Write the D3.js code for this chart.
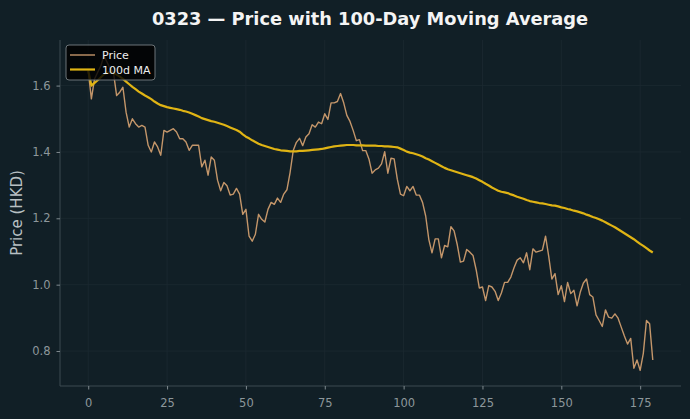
<!DOCTYPE html>
<html>
<head>
<meta charset="utf-8">
<script src="https://cdn.jsdelivr.net/npm/d3@7"></script>
<style>
  html, body { margin: 0; padding: 0; background: #111f26; }
  svg { display: block; font-family: "DejaVu Sans", sans-serif; }
</style>
</head>
<body>
<svg width="690" height="419"></svg>
<script>
// closing price, one value per trading day (index 0..179)
var price = [
  1.645, 1.560, 1.620, 1.640, 1.660, 1.690, 1.670, 1.650, 1.640, 1.570,
  1.580, 1.595, 1.520, 1.475, 1.500, 1.485, 1.475, 1.480, 1.475, 1.420,
  1.400, 1.430, 1.415, 1.390, 1.465, 1.460, 1.465, 1.470, 1.460, 1.440,
  1.440, 1.430, 1.405, 1.420, 1.420, 1.420, 1.355, 1.375, 1.330, 1.385,
  1.375, 1.315, 1.283, 1.308, 1.298, 1.270, 1.273, 1.290, 1.273, 1.212,
  1.227, 1.146, 1.131, 1.152, 1.212, 1.197, 1.189, 1.227, 1.248, 1.242,
  1.261, 1.248, 1.273, 1.286, 1.338, 1.404, 1.429, 1.441, 1.419, 1.445,
  1.455, 1.482, 1.475, 1.490, 1.485, 1.515, 1.498, 1.548, 1.548, 1.552,
  1.576, 1.548, 1.510, 1.492, 1.465, 1.434, 1.437, 1.404, 1.404, 1.379,
  1.336, 1.346, 1.351, 1.364, 1.401, 1.336, 1.381, 1.379, 1.318, 1.273,
  1.268, 1.296, 1.283, 1.296, 1.270, 1.270, 1.248, 1.207, 1.136, 1.096,
  1.138, 1.138, 1.081, 1.118, 1.114, 1.175, 1.162, 1.121, 1.068, 1.071,
  1.106, 1.098, 1.088, 1.045, 0.990, 0.993, 0.952, 0.997, 0.993, 0.980,
  0.952, 0.975, 1.007, 1.007, 1.023, 1.051, 1.074, 1.081, 1.066, 1.096,
  1.045, 1.108, 1.098, 1.101, 1.104, 1.146, 1.086, 1.017, 1.033, 0.970,
  0.997, 0.949, 1.007, 0.973, 0.983, 0.936, 0.977, 1.005, 1.017, 0.970,
  0.963, 0.909, 0.892, 0.874, 0.924, 0.902, 0.899, 0.912, 0.899, 0.872,
  0.845, 0.821, 0.838, 0.748, 0.773, 0.742, 0.793, 0.892, 0.882, 0.773
];

// 100-day moving average
var ma100 = [
  1.645, 1.600, 1.608, 1.616, 1.625, 1.634, 1.639, 1.640, 1.638, 1.633,
  1.627, 1.620, 1.612, 1.604, 1.596, 1.589, 1.582, 1.576, 1.570, 1.565,
  1.559, 1.552, 1.546, 1.541, 1.538, 1.535, 1.533, 1.531, 1.529, 1.527,
  1.524, 1.522, 1.519, 1.515, 1.511, 1.507, 1.502, 1.499, 1.496, 1.493,
  1.491, 1.488, 1.485, 1.482, 1.478, 1.474, 1.470, 1.466, 1.461, 1.453,
  1.446, 1.441, 1.435, 1.430, 1.425, 1.421, 1.418, 1.415, 1.412, 1.409,
  1.407, 1.405, 1.404, 1.403, 1.402, 1.402, 1.402, 1.403, 1.403, 1.404,
  1.405, 1.406, 1.407, 1.408, 1.409, 1.411, 1.413, 1.415, 1.417, 1.418,
  1.419, 1.420, 1.421, 1.421, 1.421, 1.420, 1.420, 1.420, 1.419, 1.419,
  1.419, 1.419, 1.418, 1.418, 1.417, 1.417, 1.416, 1.415, 1.414, 1.410,
  1.406, 1.401, 1.398, 1.396, 1.393, 1.390, 1.386, 1.381, 1.377, 1.372,
  1.367, 1.362, 1.357, 1.352, 1.348, 1.345, 1.342, 1.339, 1.336, 1.333,
  1.330, 1.327, 1.324, 1.320, 1.315, 1.310, 1.304, 1.299, 1.293, 1.288,
  1.283, 1.280, 1.278, 1.276, 1.272, 1.269, 1.265, 1.262, 1.259, 1.255,
  1.252, 1.250, 1.248, 1.246, 1.245, 1.243, 1.241, 1.239, 1.238, 1.236,
  1.233, 1.231, 1.228, 1.226, 1.223, 1.221, 1.218, 1.215, 1.211, 1.208,
  1.204, 1.201, 1.197, 1.193, 1.188, 1.183, 1.178, 1.173, 1.167, 1.161,
  1.155, 1.149, 1.143, 1.137, 1.130, 1.123, 1.117, 1.110, 1.103, 1.097
];

var xTicks = [0, 25, 50, 75, 100, 125, 150, 175];
var yTicks = [0.8, 1.0, 1.2, 1.4, 1.6];
var seriesNames = ["Price", "100d MA"];

var svg = d3.select("svg");
var plotL = 60, plotR = 681, plotT = 40, plotB = 386;

var n = price.length;
var pad = (n - 1) * 0.05;
var x = d3.scaleLinear().domain([-pad, n - 1 + pad]).range([plotL, plotR]);
var lo = d3.min(price), hi = d3.max(price);
var yPad = (hi - lo) * 0.05;
var y = d3.scaleLinear().domain([lo - yPad, hi + yPad]).range([plotB, plotT]);

// faint grid
svg.append("g").selectAll("line").data(xTicks).enter().append("line")
  .attr("x1", function(d) { return x(d); }).attr("x2", function(d) { return x(d); })
  .attr("y1", plotT).attr("y2", plotB)
  .style("stroke", "#1c2a31").style("stroke-width", 0.8);
svg.append("g").selectAll("line").data(yTicks).enter().append("line")
  .attr("y1", function(d) { return y(d); }).attr("y2", function(d) { return y(d); })
  .attr("x1", plotL).attr("x2", plotR)
  .style("stroke", "#1c2a31").style("stroke-width", 0.8);

// axes
var xAxis = svg.append("g").attr("transform", "translate(0," + plotB + ")")
  .call(d3.axisBottom(x).tickValues(xTicks).tickSize(3.5).tickPadding(9.5).tickFormat(d3.format("d")));
var yAxis = svg.append("g").attr("transform", "translate(" + plotL + ",0)")
  .call(d3.axisLeft(y).tickValues(yTicks).tickSize(3.5).tickPadding(6).tickFormat(d3.format(".1f")));
[xAxis, yAxis].forEach(function(ax) {
  ax.select(".domain").style("stroke", "#3d4a50").style("stroke-width", 1);
  ax.selectAll(".tick line").style("stroke", "#7f8a8f");
  ax.selectAll("text").style("fill", "#8d979b").style("font-size", "11.5px")
    .style("font-family", "DejaVu Sans, sans-serif");
});
xAxis.select(".domain").attr("d", "M" + plotL + ",0H" + plotR);
yAxis.select(".domain").attr("d", "M0," + plotT + "V" + plotB);

var line = d3.line().x(function(d, i) { return x(i); }).y(function(d) { return y(d); });

svg.append("path").datum(price).attr("d", line)
  .style("fill", "none").style("stroke", "#c4966a").style("stroke-width", 1.4)
  .style("stroke-linejoin", "round");
svg.append("path").datum(ma100).attr("d", line)
  .style("fill", "none").style("stroke", "#e0b414").style("stroke-width", 2.2)
  .style("stroke-linejoin", "round");

// title and y label
svg.append("text").attr("x", 370).attr("y", 24.5).attr("text-anchor", "middle")
  .style("fill", "#f4f4f4").style("font-size", "17.8px").style("font-weight", "bold")
  .text("0323 — Price with 100-Day Moving Average");
svg.append("text").attr("transform", "translate(22," + ((plotT + plotB) / 2) + ") rotate(-90)")
  .attr("text-anchor", "middle").style("fill", "#b8c0c3").style("font-size", "15px")
  .text("Price (HKD)");

// legend
var lg = svg.append("g").attr("transform", "translate(66,45)");
lg.append("rect").attr("width", 89).attr("height", 35).attr("rx", 3)
  .style("fill", "#000000").style("fill-opacity", 0.82)
  .style("stroke", "#6c7478").style("stroke-width", 1);
var colors = ["#c4966a", "#e0b414"];
var widths = [1.4, 2.2];
seriesNames.forEach(function(name, i) {
  var yy = 10 + i * 14.5;
  lg.append("line").attr("x1", 4).attr("x2", 29).attr("y1", yy).attr("y2", yy)
    .style("stroke", colors[i]).style("stroke-width", widths[i]);
  lg.append("text").attr("x", 36).attr("y", yy + 4).style("fill", "#eeeeee")
    .style("font-size", "11px").text(name);
});
</script>
</body>
</html>
